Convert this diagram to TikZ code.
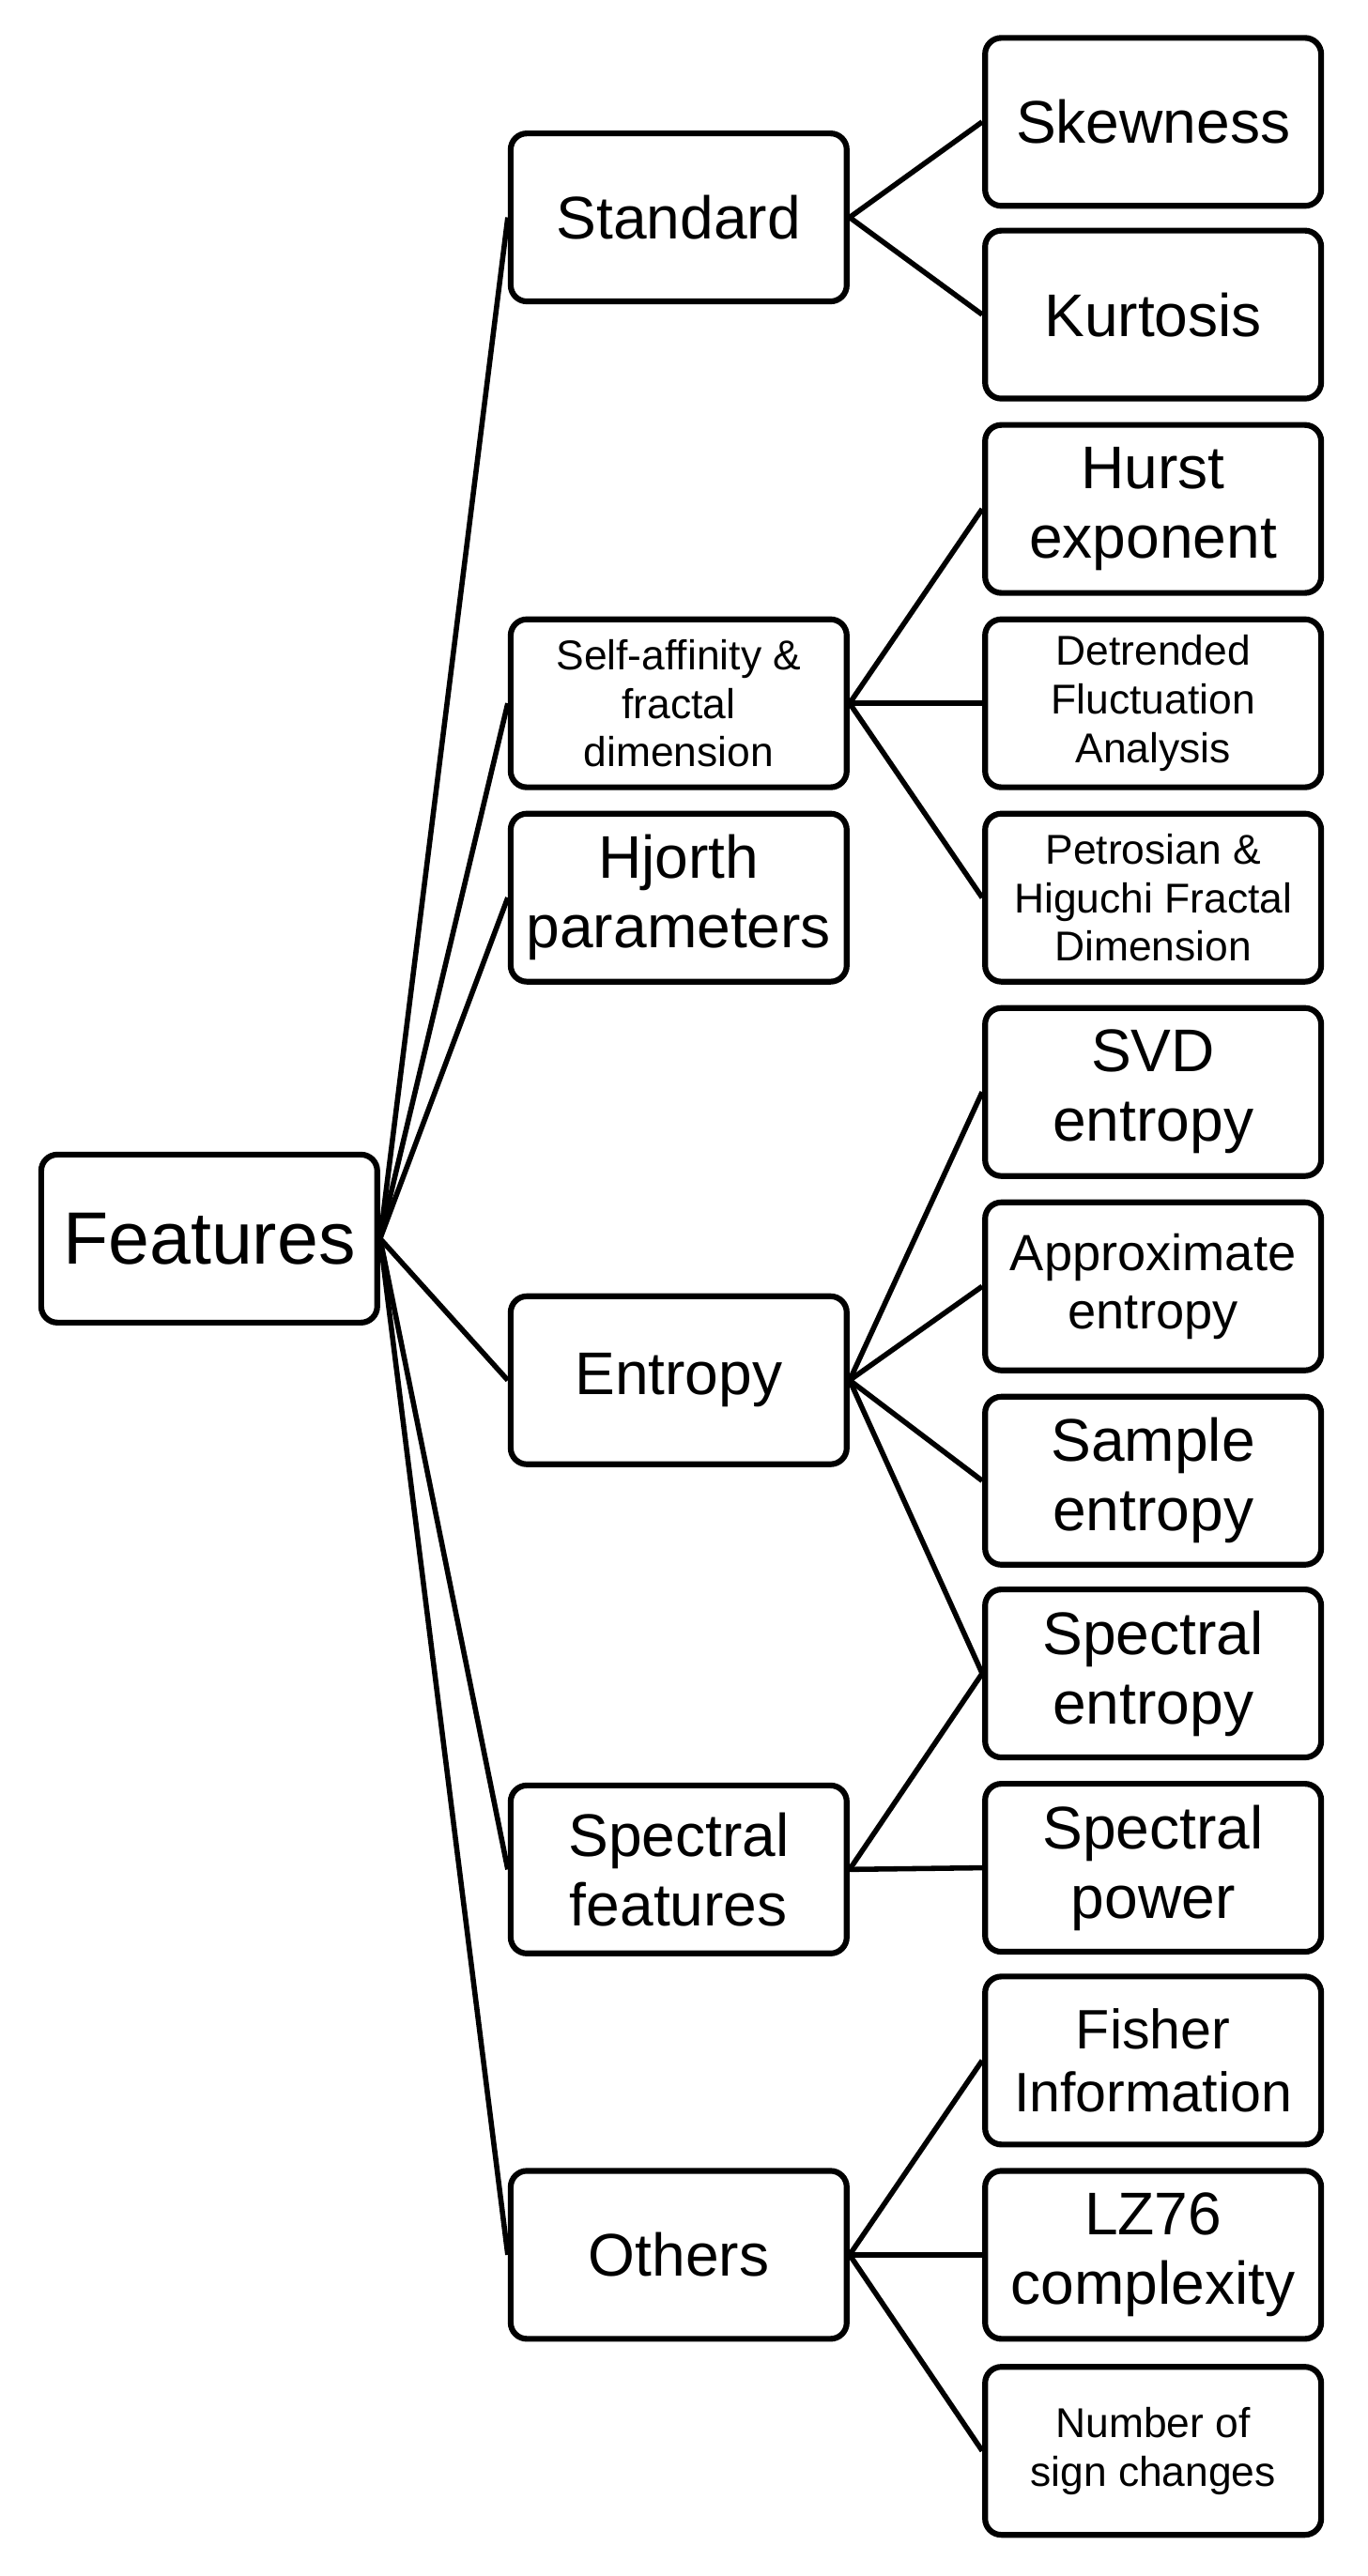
\documentclass[tikz,border=0pt]{standalone}
\usepackage{fontspec}
\setmainfont{Liberation Sans}
\begin{document}
\begin{tikzpicture}[x=0.05cm,y=-0.05cm,
	box/.style={draw, line width=5pt, rounded corners=14pt, minimum width=10.2cm,
		minimum height=5.1cm, align=center, inner sep=2pt},
	big/.style={font=\fontsize{64}{72}\selectfont},
	mid/.style={font=\fontsize{52}{60}\selectfont},
	small/.style={font=\fontsize{36}{42}\selectfont},
	link/.style={line width=4.5pt}]
	\useasboundingbox (0,0) rectangle (830,1564);

	% root and groups
	\node[box,big] (feat) at (127,752) {Features};
	\node[box,mid] (std) at (412,132) {Standard};
	\node[box,small] (self) at (412,427) {Self-affinity \&\\fractal\\dimension};
	\node[box,mid] (hjo) at (412,545) {Hjorth\\parameters};
	\node[box,mid] (ent) at (412,838) {Entropy};
	\node[box,mid] (spf) at (412,1135) {Spectral\\features};
	\node[box,mid] (oth) at (412,1369) {Others};

	% leaves
	\node[box,mid] (skew) at (700,74) {Skewness};
	\node[box,mid] (kurt) at (700,191) {Kurtosis};
	\node[box,mid] (hurst) at (700,309) {Hurst\\exponent};
	\node[box,small] (dfa) at (700,427) {Detrended\\Fluctuation\\Analysis};
	\node[box,small] (petro) at (700,545) {Petrosian \&\\Higuchi Fractal\\Dimension};
	\node[box,mid] (svd) at (700,663) {SVD\\entropy};
	\node[box,font=\fontsize{44}{50}\selectfont] (appr) at (700,781) {Approximate\\entropy};
	\node[box,mid] (samp) at (700,899) {Sample\\entropy};
	\node[box,mid] (spe) at (700,1016) {Spectral\\entropy};
	\node[box,mid] (spp) at (700,1134) {Spectral\\power};
	\node[box,font=\fontsize{48}{54}\selectfont] (fish) at (700,1251) {Fisher\\Information};
	\node[box,mid] (lz) at (700,1369) {LZ76\\complexity};
	\node[box,small] (sign) at (700,1488) {Number of\\sign changes};

	\foreach \g in {std,self,hjo,ent,spf,oth}
		\draw[link] (feat.east) -- (\g.west);
	\foreach \g/\l in {std/skew,std/kurt,self/hurst,self/dfa,self/petro,ent/svd,ent/appr,
		ent/samp,ent/spe,spf/spe,spf/spp,oth/fish,oth/lz,oth/sign}
		\draw[link] (\g.east) -- (\l.west);
\end{tikzpicture}
\end{document}
